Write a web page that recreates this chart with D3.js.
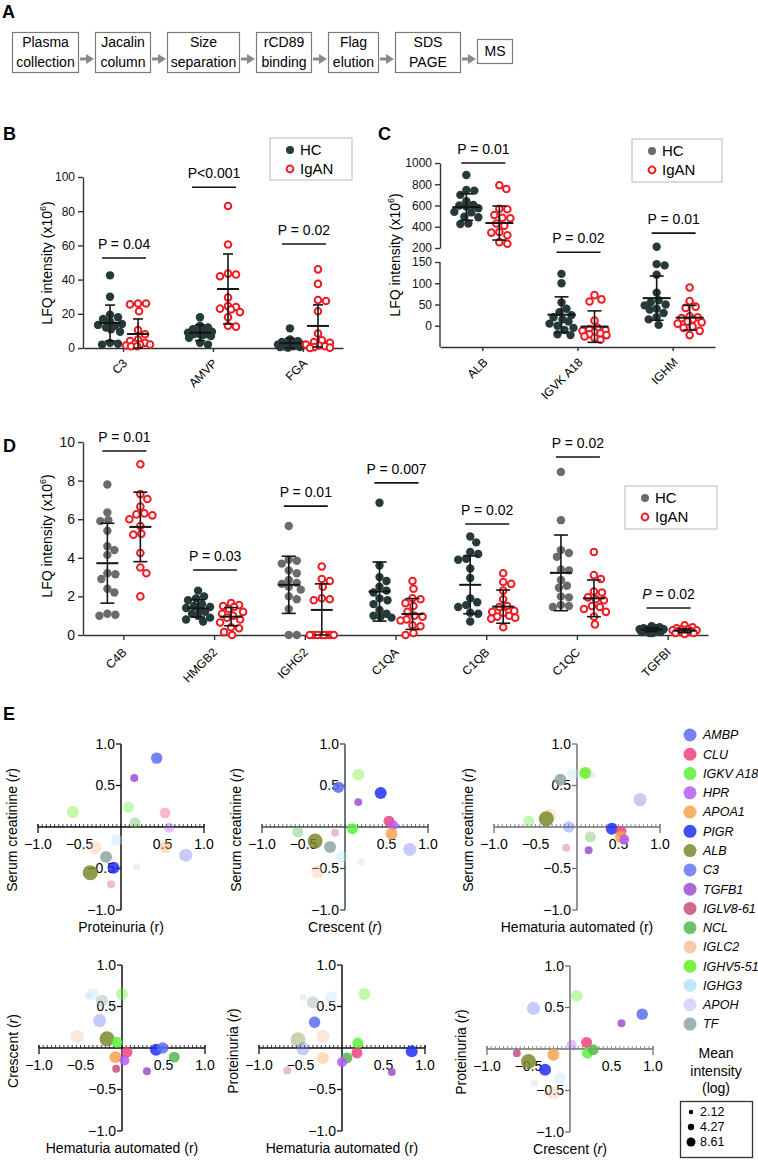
<!DOCTYPE html>
<html><head><meta charset="utf-8">
<script src="https://cdn.jsdelivr.net/npm/d3@7/dist/d3.min.js"></script>
<style>
html,body{margin:0;padding:0;background:#fff;}
svg{display:block;font-family:"Liberation Sans",Arial,Helvetica,sans-serif;}
</style></head><body>
<svg id="chart" width="758" height="1161"></svg>
<script>
// ================= DATA =================
const flowSteps = [["Plasma","collection"],["Jacalin","column"],["Size","separation"],["rCD89","binding"],["Flag","elution"],["SDS","PAGE"],["MS"]];

// ---- Panel B ----
const catsB = ["C3","AMVP","FGA"];
const hcB = [
  [42.5,30,19.5,18,17,15.5,14,13.5,13,12,11,9.5,3,2.5,2],
  [18,13,12,11,10,9.5,9,8.5,8,8,7.5,7,6,3,2],
  [11.5,5,4,3.5,3,2.5,2,2,1.5,1.5,1,1,0.5,0.5,0.2]];
const iganB = [
  [26,26,25.5,21.5,10.5,8,5,4,3,2.5,2,2,1.5,1,1],
  [83,60.5,43.5,43,42,29.5,24.5,24,23,22.5,21,18,13,12.5],
  [46,37.5,28,27.5,21.5,8.5,4.5,3.5,3,2,1.5,1,0.5,0.2,0]];
const hcMeanB = [14.6,8.9,2.8], hcSdB = [10.5,4.6,2.8];
const iganMeanB = [8.2,34.5,12.9], iganSdB = [8.8,20.5,12.3];
const pTextB = ["P = 0.04","P<0.001","P = 0.02"];
const pBarB = [52.6,94,60.8];
const ticksB = [0,20,40,60,80,100];

// ---- Panel C ----
const catsC = ["ALB","IGVK A18","IGHM"];
const hcC = [
  [887,746,740,700,640,605,600,590,575,540,535,495,490,430,425],
  [122,100,55,40,32,25,20,15,10,5,0,-5,-10,-20,-22],
  [186,145,142,120,78,60,55,50,48,40,38,30,20,15,2]];
const iganC = [
  [790,755,570,565,510,485,480,430,410,350,345,320,255,240],
  [72,62,57,12,-5,-8,-10,-12,-15,-18,-20,-22,-25,-28,-33],
  [90,58,45,42,22,20,18,15,10,8,5,-2,-5,-12,-22]];
const hcMeanC = [585,26,65], hcSdC = [125,42,52];
const iganMeanC = [435,-2,19], iganSdC = [160,37,29];
const pTextC = ["P = 0.01","P = 0.02","P = 0.01"];
const pBarC = [1000,173,218];
const ticksCTop = [1000,800,600,400,200];
const ticksCLow = [150,100,50,0];

// ---- Panel D ----
const catsD = ["C4B","HMGB2","IGHG2","C1QA","C1QB","C1QC","TGFBI"];
const hcD = [
  [7.8,6.35,5.95,5.9,5.4,4.6,4.4,4.15,3.2,3.15,2.9,2.4,2.2,1.1,1.0,1.05],
  [2.3,2.0,1.9,1.8,1.6,1.5,1.45,1.4,1.35,1.2,1.1,1.0,0.9,0.8,0.7],
  [5.65,3.9,3.85,3.7,3.35,3.2,2.85,2.7,2.65,2.5,2.35,2.0,1.85,1.35,0,0],
  [6.85,3.6,3.0,2.8,2.5,2.3,2.2,1.9,1.8,1.6,1.3,1.1,1.0,0.95,0.9],
  [5.1,4.8,4.3,4.2,3.95,3.9,3.45,2.95,1.9,1.7,1.55,1.45,1.15,1.1,0.7],
  [8.45,5.95,4.4,4.25,4.05,3.4,3.35,2.85,2.55,2.45,2.0,1.95,1.55,1.5,1.45],
  [0.45,0.4,0.35,0.35,0.3,0.3,0.3,0.25,0.25,0.2,0.2,0.15,0.15,0.1,0.1]];
const iganD = [
  [8.85,7.3,7.05,6.65,6.3,6.25,6.2,6.0,5.65,5.25,5.2,4.25,3.5,3.2,2.0],
  [1.65,1.55,1.5,1.45,1.35,1.2,1.1,1.0,0.9,0.8,0.65,0.4,0.35,0.15,0.0],
  [3.55,2.9,2.8,2.5,1.9,1.85,1.8,0,0,0,0,0,0,0,0],
  [2.8,2.4,1.9,1.85,1.65,1.5,1.2,1.0,0.95,0.8,0.75,0.5,0.45,0.1,0.0],
  [3.2,2.75,2.65,2.3,1.85,1.5,1.45,1.25,1.2,1.15,1.0,0.95,0.9,0.85,0.4],
  [4.3,3.1,2.9,2.25,2.2,1.95,1.85,1.8,1.5,1.45,1.35,1.2,0.95,0.55],
  [0.5,0.4,0.35,0.3,0.3,0.25,0.25,0.2,0.2,0.2,0.15,0.15,0.1,0.1,0.05]];
const hcMeanD = [3.72,1.38,2.6,2.25,2.6,3.22,0.28], hcSdD = [2.07,0.45,1.48,1.53,1.5,1.96,0.1];
const iganMeanD = [5.6,0.95,1.3,1.09,1.47,1.9,0.22], iganSdD = [1.8,0.47,1.35,0.8,0.86,0.95,0.1];
const pTextD = ["P = 0.01","P = 0.03","P = 0.01","P = 0.007","P = 0.02","P = 0.02","P = 0.02"];
const pBarD = [9.53,3.37,6.68,7.88,5.75,9.22,1.4];
const ticksD = [0,2,4,6,8,10];

// ---- Panel E ----
const proteins = ["AMBP","CLU","IGKV A18","HPR","APOA1","PIGR","ALB","C3","TGFB1","IGLV8-61","NCL","IGLC2","IGHV5-51","IGHG3","APOH","TF"];
const meanIntensity = [5.0,4.6,4.6,3.8,5.5,5.5,8.61,6.5,2.4,2.4,4.6,6.5,5.5,5.5,1.9,5.5];
const sizeLegend = [2.12,4.27,8.61];
const eTicks = [-1,-0.5,0.5,1];
// [protein, r(x), r(y), significant]
const eProtCreat = [["AMBP",0.43,0.83,1],["TGFB1",0.16,0.59,1],["IGKV A18",0.09,0.24,0],["IGHV5-51",-0.58,0.18,0],["NCL",0.17,0.05,0],["CLU",0.53,0.17,0],["HPR",0.58,-0.01,0],["IGHG3",-0.05,-0.16,0],["IGLC2",-0.31,-0.25,0],["APOA1",0.54,-0.24,0],["C3",0.78,-0.34,0],["TF",-0.18,-0.36,1],["PIGR",-0.09,-0.49,1],["ALB",-0.37,-0.55,1],["APOH",0.19,-0.48,0],["IGLV8-61",-0.12,-0.69,0]];
const eCresCreat = [["AMBP",-0.08,0.48,1],["IGHV5-51",0.16,0.63,0],["TGFB1",0.16,0.30,1],["IGKV A18",0.09,-0.02,1],["NCL",-0.57,-0.06,0],["ALB",-0.36,-0.17,1],["IGLV8-61",-0.12,-0.07,0],["TF",-0.18,-0.24,1],["IGHG3",-0.04,-0.36,0],["APOH",0.19,-0.42,0],["IGLC2",-0.33,-0.54,0],["PIGR",0.43,0.41,1],["CLU",0.53,0.07,1],["HPR",0.58,0.02,1],["APOA1",0.56,-0.08,1],["C3",0.78,-0.27,0]];
const eHemaCreat = [["TF",-0.2,0.57,1],["IGHG3",-0.05,0.64,0],["IGHV5-51",0.1,0.65,1],["APOH",0.18,0.63,0],["C3",0.76,0.33,0],["IGLC2",-0.33,0.14,0],["IGKV A18",-0.58,0.07,0],["ALB",-0.37,0.1,1],["AMBP",-0.1,0.0,0],["PIGR",0.42,-0.02,1],["CLU",0.53,-0.05,1],["APOA1",0.53,-0.12,1],["HPR",0.57,-0.15,1],["NCL",0.16,-0.12,0],["IGLV8-61",-0.13,-0.25,0],["TGFB1",0.14,-0.28,1]];
const eHemaCres = [["IGHG3",-0.35,0.65,0],["APOH",-0.41,0.63,0],["TF",-0.24,0.57,0],["IGHV5-51",0.0,0.65,0],["C3",-0.27,0.33,0],["IGLC2",-0.54,0.14,0],["ALB",-0.18,0.11,1],["IGKV A18",-0.06,0.07,1],["PIGR",0.41,-0.02,1],["AMBP",0.49,0.0,1],["CLU",0.06,-0.05,1],["APOA1",-0.08,-0.11,1],["HPR",0.03,-0.15,1],["NCL",0.63,-0.11,1],["IGLV8-61",-0.07,-0.25,1],["TGFB1",0.3,-0.28,1]];
const eHemaProt = [["APOH",-0.47,0.61,0],["TF",-0.35,0.55,0],["IGHG3",-0.13,0.61,0],["IGHV5-51",0.27,0.65,0],["AMBP",-0.33,0.31,1],["IGLC2",-0.23,0.14,0],["ALB",-0.53,0.1,0],["C3",-0.47,-0.01,0],["IGKV A18",0.19,0.06,1],["CLU",0.18,-0.06,1],["APOA1",-0.23,-0.12,0],["NCL",0.06,-0.12,1],["HPR",0.0,-0.17,1],["IGLV8-61",-0.66,-0.27,0],["PIGR",0.84,-0.04,1],["TGFB1",0.6,-0.29,1]];
const eCresProt = [["IGHV5-51",0.08,0.64,0],["C3",-0.44,0.49,0],["AMBP",0.87,0.42,1],["TGFB1",0.62,0.31,1],["CLU",0.2,0.08,1],["HPR",0.02,0.05,0],["IGKV A18",0.21,-0.05,1],["NCL",0.28,-0.01,1],["IGLV8-61",-0.64,-0.05,1],["APOA1",-0.2,-0.07,1],["ALB",-0.5,-0.15,1],["PIGR",-0.3,-0.25,1],["IGHG3",-0.12,-0.35,0],["APOH",-0.43,-0.41,0],["IGLC2",-0.2,-0.53,0]];

// ================= STYLE =================
const FONT = '"Liberation Sans", Arial, Helvetica, sans-serif';
const DARK = "#263a3a", GREY = "#6b6b6b", RED = "#ee1c25", AX = "#333";
const proteinColor = {"AMBP":"#5b6cf2","CLU":"#f2417c","IGKV A18":"#5cf03c","HPR":"#b45cf2","APOA1":"#f6a24f","PIGR":"#1e2ff2","ALB":"#7b8a2a","C3":"#6877f2","TGFB1":"#9a4fd0","IGLV8-61":"#c94f7a","NCL":"#52b852","IGLC2":"#f7c19c","IGHV5-51":"#62f020","IGHG3":"#b7e1fa","APOH":"#cfd0f8","TF":"#8fa3a3"};

const svg = d3.select("#chart");

function panelLabel(t,x,y){
  svg.append("text").attr("x",x).attr("y",y).attr("font-weight","bold").attr("font-size",18).text(t);
}

// ================= PANEL A =================
panelLabel("A",2,18);
(function(){
  const boxW = [66,55,72,55,50,65,35], gap = 17;
  const g = svg.append("g");
  let bx = 12;
  flowSteps.forEach((s,i)=>{
    const w = boxW[i];
    const one = s.length===1;
    const y0 = one?39:32, h = one?24:40;
    g.append("rect").attr("x",bx+0.5).attr("y",y0+0.5).attr("width",w).attr("height",h)
      .attr("fill","#fff").attr("stroke","#7a7a7a").attr("stroke-width",1.2);
    s.forEach((line,j)=>{
      g.append("text").attr("x",bx+w/2+0.5).attr("y", one? 56 : 47+j*20)
        .attr("text-anchor","middle").attr("font-size",14)
        .attr("font-family",'"Liberation Sans Narrow","Arial Narrow",'+FONT)
        .text(line);
    });
    if(i<flowSteps.length-1){
      const x1 = bx+w+2, x2 = bx+w+gap-1, ya = 59;
      g.append("line").attr("x1",x1).attr("x2",x2-7).attr("y1",ya).attr("y2",ya).attr("stroke","#8a8a8a").attr("stroke-width",3);
      g.append("path").attr("d",`M${x2-8},${ya-5}L${x2},${ya}L${x2-8},${ya+5}Z`).attr("fill","#8a8a8a");
    }
    bx += w+gap;
  });
})();

// ================= DOT PLOT HELPERS =================
function swarm(ys, cx, r, maxOff){
  const order = ys.map((y,i)=>i).sort((a,b)=>ys[a]-ys[b]);
  const placed = [];
  const minD = 2*r*0.92;
  for(const i of order){
    const y = ys[i];
    let bestX = cx, best = -Infinity;
    for(let k=0;k<=2*maxOff;k++){
      const off = (k%2?1:-1)*Math.ceil(k/2);
      const x = cx+off;
      let md = Infinity;
      for(const p of placed) md = Math.min(md, Math.hypot(p.x-x,p.y-y));
      if(md>=minD){bestX=x;best=Infinity;break;}
      if(md>best+0.5){best=md;bestX=x;}
    }
    placed.push({x:bestX,y});
  }
  return placed;
}

function dotPanel(o){
  const g = svg.append("g");
  const xa = g.append("g").attr("transform",`translate(0,${o.xAxisY})`)
    .call(d3.axisBottom(o.x).tickSize(o.xTick).tickSizeOuter(0).tickFormat(""));
  xa.attr("color",AX).selectAll("path,line").attr("stroke-width",1.4);
  o.yAxes.forEach(a=>{
    const ya = g.append("g").attr("transform",`translate(${o.x.range()[0]},0)`)
      .call(d3.axisLeft(a.scale).tickValues(a.ticks).tickFormat(d3.format("d")).tickSize(5).tickSizeOuter(0).tickPadding(3));
    ya.attr("color",AX).attr("font-family",FONT).attr("font-size",o.tickFs);
    ya.selectAll("path,line").attr("stroke-width",1.4);
    ya.selectAll("text").attr("fill","#111");
    if(a.range){ ya.select(".domain").attr("d",`M0,${a.range[0]}V${a.range[1]}`); }
  });
  o.cats.forEach(c=>{
    g.append("text").attr("transform",`translate(${o.x(c)+o.lab[0]},${o.xAxisY+o.lab[1]}) rotate(-45)`)
      .attr("text-anchor","end").attr("font-size",o.labFs).text(c);
  });
  const yt = g.append("text").attr("transform",`translate(${o.yTitle[0]},${o.yTitle[1]}) rotate(-90)`)
    .attr("text-anchor","middle").attr("font-size",14);
  yt.append("tspan").text("LFQ intensity (x10");
  yt.append("tspan").attr("dy",-6).attr("font-size",9).text("6");
  yt.append("tspan").attr("dy",6).text(")");

  o.cats.forEach((c,i)=>{
    const yf = v=>o.y(i,v);
    const xc = o.x(c);
    const cxH = xc+o.off[0], cxI = xc+o.off[1];
    const hcCol = o.hcColor(c);
    swarm(o.hc[i].map(yf),cxH,4.2,12).forEach(p=>{
      g.append("circle").attr("cx",p.x).attr("cy",p.y).attr("r",4.2).attr("fill",hcCol);
    });
    swarm(o.igan[i].map(yf),cxI,4.2,12).forEach(p=>{
      g.append("circle").attr("cx",p.x).attr("cy",p.y).attr("r",3.3).attr("fill","#fff").attr("stroke",RED).attr("stroke-width",2);
    });
    [[cxH,o.hcMean[i],o.hcSd[i]],[cxI,o.iganMean[i],o.iganSd[i]]].forEach(([cx,m,s])=>{
      const yT = yf(m+s), yB = yf(Math.max(o.floor,m-s)), yM = yf(m);
      const e = g.append("g").attr("stroke","#151515").attr("stroke-width",1.6);
      e.append("line").attr("x1",cx).attr("x2",cx).attr("y1",yT).attr("y2",yB);
      e.append("line").attr("x1",cx-o.capW).attr("x2",cx+o.capW).attr("y1",yT).attr("y2",yT);
      e.append("line").attr("x1",cx-o.capW).attr("x2",cx+o.capW).attr("y1",yB).attr("y2",yB);
      e.append("line").attr("x1",cx-o.meanW).attr("x2",cx+o.meanW).attr("y1",yM).attr("y2",yM).attr("stroke-width",2);
    });
    const yb = yf(o.pBar[i]);
    g.append("line").attr("x1",xc-21).attr("x2",xc+23).attr("y1",yb).attr("y2",yb).attr("stroke","#111").attr("stroke-width",1.6);
    const t = o.pText[i];
    const pt = g.append("text").attr("x",xc+1).attr("y",yb-9).attr("text-anchor","middle").attr("font-size",14);
    if(o.italicP && o.italicP(c)){ pt.append("tspan").attr("font-style","italic").text("P"); pt.append("tspan").text(t.slice(1)); }
    else pt.text(t);
  });
  const L = o.legend;
  g.append("rect").attr("x",L[0]).attr("y",L[1]).attr("width",L[2]).attr("height",L[3]).attr("fill","#fff").attr("stroke","#d0d0d0").attr("stroke-width",1.5);
  g.append("circle").attr("cx",L[0]+20).attr("cy",L[1]+12).attr("r",4).attr("fill",o.legendDot);
  g.append("text").attr("x",L[0]+30).attr("y",L[1]+17).attr("font-size",15).text("HC");
  g.append("circle").attr("cx",L[0]+20).attr("cy",L[1]+31).attr("r",3.4).attr("fill","#fff").attr("stroke",RED).attr("stroke-width",2);
  g.append("text").attr("x",L[0]+30).attr("y",L[1]+36).attr("font-size",15).text("IgAN");
}

// ================= PANEL B =================
panelLabel("B",3,140);
{
  const x = d3.scalePoint(catsB,[83,343]).padding(0.445);
  const y = d3.scaleLinear([0,100],[348,177]);
  dotPanel({cats:catsB,x,y:(i,v)=>y(v),xAxisY:348,xTick:4,
    yAxes:[{scale:y,ticks:ticksB}],tickFs:12,lab:[5,16],labFs:12,yTitle:[52,263],
    off:[-13,15],hc:hcB,igan:iganB,hcMean:hcMeanB,hcSd:hcSdB,iganMean:iganMeanB,iganSd:iganSdB,
    hcColor:()=>DARK,capW:5,meanW:11,floor:0,pBar:pBarB,pText:pTextB,
    legend:[270,138,82,42],legendDot:DARK});
}

// ================= PANEL C =================
panelLabel("C",378,140);
{
  const x = d3.scalePoint(catsC,[440,715]).padding(0.445);
  const yTop = d3.scaleLinear([200,1000],[248,163]);
  const yLow = d3.scaleLinear([-50,150],[347,262]);
  dotPanel({cats:catsC,x,y:(i,v)=>i===0?yTop(v):yLow(v),xAxisY:347,xTick:4,
    yAxes:[{scale:yTop,ticks:ticksCTop},{scale:yLow,ticks:ticksCLow,range:[262,347]}],tickFs:12,lab:[6,16],labFs:12,yTitle:[400,255],
    off:[-16,17],hc:hcC,igan:iganC,hcMean:hcMeanC,hcSd:hcSdC,iganMean:iganMeanC,iganSd:iganSdC,
    hcColor:()=>DARK,capW:7,meanW:14,floor:-Infinity,pBar:pBarC,pText:pTextC,
    legend:[632,139,90,43],legendDot:GREY});
}

// ================= PANEL D =================
panelLabel("D",3,452);
{
  const x = d3.scalePoint(catsD,[83,708]).padding(0.445);
  const y = d3.scaleLinear([0,10],[635,442]);
  const greyHC = new Set(["C4B","IGHG2","C1QC"]);
  dotPanel({cats:catsD,x,y:(i,v)=>y(v),xAxisY:635,xTick:5,
    yAxes:[{scale:y,ticks:ticksD}],tickFs:14,lab:[4,18],labFs:12,yTitle:[52,536],
    off:[-16,17],hc:hcD,igan:iganD,hcMean:hcMeanD,hcSd:hcSdD,iganMean:iganMeanD,iganSd:iganSdD,
    hcColor:c=>greyHC.has(c)?GREY:DARK,capW:7,meanW:11,floor:0,pBar:pBarD,pText:pTextD,
    italicP:c=>c==="TGFBI",
    legend:[625,486,92,43],legendDot:GREY});
}

// ================= PANEL E =================
panelLabel("E",3,720);
const rScale = d3.scaleSqrt([0,8.61],[0,7.5]);
const protIndex = new Map(proteins.map((p,i)=>[p,i]));

function axisTitle(sel, base, italic){
  sel.append("tspan").text(base+" (");
  sel.append("tspan").attr("font-style",italic?"italic":"normal").text("r");
  sel.append("tspan").text(")");
}

function scatter(o){
  const u = 83;
  const x = d3.scaleLinear([-1,1],[o.ox-u,o.ox+u]);
  const y = d3.scaleLinear([-1,1],[o.oy+u,o.oy-u]);
  const g = svg.append("g");
  g.append("line").attr("x1",x(-1)).attr("x2",x(1)).attr("y1",o.oy).attr("y2",o.oy).attr("stroke",o.ac).attr("stroke-width",1.3);
  d3.range(-1,1.0001,0.05).forEach(v=>{
    g.append("line").attr("x1",x(v)).attr("x2",x(v)).attr("y1",o.oy-3).attr("y2",o.oy).attr("stroke",o.ac).attr("stroke-width",0.8);
  });
  [-1,1].forEach(v=>g.append("line").attr("x1",x(v)).attr("x2",x(v)).attr("y1",o.oy-3).attr("y2",o.oy+6).attr("stroke",o.ac).attr("stroke-width",1.3));
  g.append("line").attr("x1",o.ox).attr("x2",o.ox).attr("y1",y(1)).attr("y2",y(-1)).attr("stroke",o.ac).attr("stroke-width",1.5);
  eTicks.forEach(v=>{
    g.append("line").attr("x1",o.ox-5).attr("x2",o.ox).attr("y1",y(v)).attr("y2",y(v)).attr("stroke",o.ac).attr("stroke-width",1.3);
    g.append("text").attr("x",o.ox-6).attr("y",y(v)).attr("dy","0.35em").attr("text-anchor","end").attr("font-size",14)
      .text(d3.format(".1f")(v).replace("-","\u2212"));
    g.append("text").attr("x",x(v)).attr("y",o.oy+22).attr("text-anchor","middle").attr("font-size",14)
      .text(d3.format(".1f")(v).replace("-","\u2212"));
  });
  o.data.forEach(([p,rx,ry,sig])=>{
    g.append("circle").attr("cx",x(rx)).attr("cy",y(ry)).attr("r",rScale(meanIntensity[protIndex.get(p)]))
      .attr("fill",proteinColor[p]).attr("fill-opacity",sig?0.85:0.38);
  });
  axisTitle(g.append("text").attr("x",o.ox).attr("y",o.oy+105).attr("text-anchor","middle").attr("font-size",14),o.xl,o.xi);
  axisTitle(g.append("text").attr("transform",`translate(${o.ox-104},${o.oy+3}) rotate(-90)`).attr("text-anchor","middle").attr("font-size",14),o.yl,true);
}

const ePlots = [
  {ox:121,oy:827,data:eProtCreat,xl:"Proteinuria",xi:false,yl:"Serum creatinine",ac:"#111"},
  {ox:345,oy:827,data:eCresCreat,xl:"Crescent",xi:true,yl:"Serum creatinine",ac:"#3e4d4d"},
  {ox:577,oy:827,data:eHemaCreat,xl:"Hematuria automated",xi:false,yl:"Serum creatinine",ac:"#707070"},
  {ox:122,oy:1048,data:eHemaCres,xl:"Hematuria automated",xi:false,yl:"Crescent",ac:"#111"},
  {ox:342,oy:1048,data:eHemaProt,xl:"Hematuria automated",xi:false,yl:"Proteinuria",ac:"#111"},
  {ox:570,oy:1049,data:eCresProt,xl:"Crescent",xi:true,yl:"Proteinuria",ac:"#707070"}];
ePlots.forEach(scatter);

{
  const g = svg.append("g");
  proteins.forEach((p,i)=>{
    const yy = 735+i*19.27;
    g.append("circle").attr("cx",690).attr("cy",yy).attr("r",6.5).attr("fill",proteinColor[p]).attr("fill-opacity",0.85);
    g.append("text").attr("x",703).attr("y",yy).attr("dy","0.35em").attr("font-size",12.5).attr("font-style","italic").text(p);
  });
  ["Mean","intensity","(log)"].forEach((t,i)=>{
    g.append("text").attr("x",716).attr("y",1058+i*17.5).attr("text-anchor","middle").attr("font-size",14).text(t);
  });
  g.append("rect").attr("x",680.5).attr("y",1101.5).attr("width",72).attr("height",56).attr("fill","none").attr("stroke","#333").attr("stroke-width",1.3);
  sizeLegend.forEach((v,i)=>{
    const yy = 1112+i*15;
    g.append("circle").attr("cx",691).attr("cy",yy).attr("r",rScale(v)*0.6).attr("fill","#000");
    g.append("text").attr("x",700).attr("y",yy).attr("dy","0.35em").attr("font-size",12.5).text(v.toFixed(2));
  });
}
</script>
</body></html>
